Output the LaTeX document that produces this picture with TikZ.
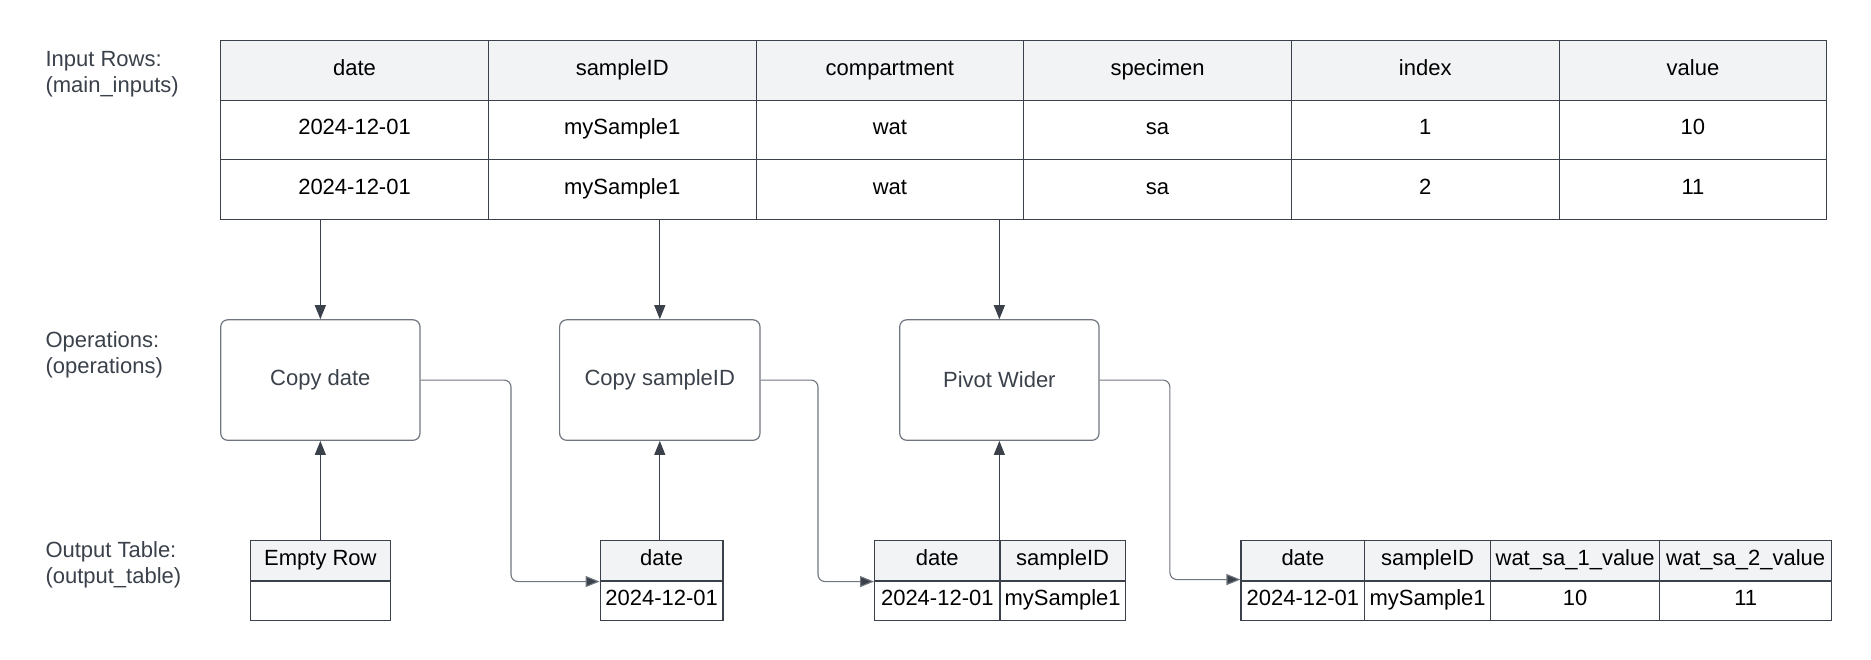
\documentclass[tikz,border=0pt]{standalone}
\usepackage{fontspec}
\setmainfont{Liberation Sans}
\usetikzlibrary{arrows.meta}
\definecolor{ln}{HTML}{3A414A}
\definecolor{hd}{HTML}{F2F3F5}
\definecolor{bx}{HTML}{70767F}
\begin{document}
\begin{tikzpicture}[x=1pt,y=-1pt,
  font=\fontsize{22}{26}\selectfont,
  cell/.style={draw=ln,line width=1.1pt,inner sep=0pt,text=black,
    text height=15.75pt,text depth=6pt},
  head/.style={cell,fill=hd},
  opbox/.style={draw=bx,rounded corners=7pt,line width=1.2pt,inner sep=0pt,
    minimum width=199.3pt,minimum height=120.5pt,text=ln},
  lbl/.style={anchor=west,align=left,text=ln,inner sep=0pt},
  arr/.style={draw=ln,line width=1.1pt,-{Triangle[length=14pt,width=11pt]}},
  conn/.style={draw=bx,line width=1.1pt,rounded corners=7pt,-{Triangle[length=14pt,width=11pt,fill=ln]}}
]
\useasboundingbox (0,0) rectangle (1871,660);

% side labels
\node[lbl] (labIn)  at (45.3,74.1)  {Input Rows:\\(main\_inputs)};
\node[lbl] (labOp)  at (45.3,354.8) {Operations:\\(operations)};
\node[lbl] (labOut) at (45.3,564.5) {Output Table:\\(output\_table)};

% input table
\foreach \h/\a/\b [count=\i] in {date/2024-12-01/2024-12-01,
    sampleID/mySample1/mySample1, compartment/wat/wat,
    specimen/sa/sa, index/1/2, value/10/11}{
  \pgfmathsetmacro\cx{220.7+(\i-0.5)*267.68}
  \node[head,minimum width=267.68pt,minimum height=59.65pt] (h\i) at (\cx,70.4) {\h};
  \node[cell,minimum width=267.68pt,minimum height=59.65pt] (a\i) at (\cx,130.05) {\a};
  \node[cell,minimum width=267.68pt,minimum height=59.65pt] (b\i) at (\cx,189.7) {\b};
}

% operations
\node[opbox] (copyDate) at (320.35,380.05) {Copy date};
\node[opbox,minimum width=200.4pt] (copySample) at (659.8,380.05) {Copy sampleID};
\node[opbox] (pivot) at (999.35,380.05) {Pivot Wider};

% output tables
\node[head,minimum width=139.6pt,minimum height=40.5pt] (erH) at (320.4,560.75) {Empty Row};
\node[cell,minimum width=139.6pt,minimum height=39.5pt] (erB) at (320.4,600.75) {};

\node[head,minimum width=122.8pt,minimum height=40.5pt] (dtH) at (661.6,560.75) {date};
\node[cell,minimum width=122.8pt,minimum height=39.5pt] (dtB) at (661.6,600.75) {2024-12-01};

\node[head,minimum width=125.4pt,minimum height=40.5pt] (dsH1) at (937.3,560.75) {date};
\node[cell,minimum width=125.4pt,minimum height=39.5pt] (dsB1) at (937.3,600.75) {2024-12-01};
\node[head,minimum width=125.2pt,minimum height=40.5pt] (dsH2) at (1062.6,560.75) {sampleID};
\node[cell,minimum width=125.2pt,minimum height=39.5pt] (dsB2) at (1062.6,600.75) {mySample1};

\node[head,minimum width=123.8pt,minimum height=40.5pt] (fnH1) at (1302.9,560.75) {date};
\node[cell,minimum width=123.8pt,minimum height=39.5pt] (fnB1) at (1302.9,600.75) {2024-12-01};
\node[head,minimum width=125.6pt,minimum height=40.5pt] (fnH2) at (1427.6,560.75) {sampleID};
\node[cell,minimum width=125.6pt,minimum height=39.5pt] (fnB2) at (1427.6,600.75) {mySample1};
\node[head,minimum width=169.4pt,minimum height=40.5pt] (fnH3) at (1575.1,560.75) {wat\_sa\_1\_value};
\node[cell,minimum width=169.4pt,minimum height=39.5pt] (fnB3) at (1575.1,600.75) {10};
\node[head,minimum width=171.7pt,minimum height=40.5pt] (fnH4) at (1745.65,560.75) {wat\_sa\_2\_value};
\node[cell,minimum width=171.7pt,minimum height=39.5pt] (fnB4) at (1745.65,600.75) {11};

% arrows from input table
\draw[arr] (copyDate.north |- b1.south) -- (copyDate.north);
\draw[arr] (copySample.north |- b2.south) -- (copySample.north);
\draw[arr] (pivot.north |- b3.south) -- (pivot.north);

% arrows from output tables
\draw[arr] (copyDate.south |- erH.north) -- (copyDate.south);
\draw[arr] (copySample.south |- dtH.north) -- (copySample.south);
\draw[arr] (pivot.south |- dsH1.north) -- (pivot.south);

% result connectors
\draw[conn] (copyDate.east) -- ++(90.4,0) |- (dtH.south west);
\draw[conn] (copySample.east) -- ++(57.4,0) |- (dsH1.south west);
\draw[conn] (pivot.east) -- ++(70.3,0) |- ([yshift=2pt]fnH1.south west);
\end{tikzpicture}
\end{document}
